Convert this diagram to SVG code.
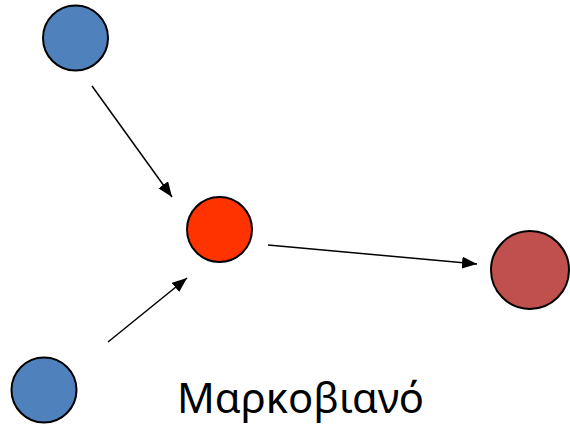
<svg xmlns="http://www.w3.org/2000/svg" width="570" height="424" viewBox="0 0 570 424">
<defs>
<marker id="ah" viewBox="0 0 15 12" refX="15" refY="6" markerWidth="15" markerHeight="12" markerUnits="userSpaceOnUse" orient="auto">
<path d="M0,0 L15,6 L0,12 Z" fill="#000"/>
</marker>
<style>
.n{stroke:#000;stroke-width:2}
.c{stroke:#000;stroke-width:1.5;fill:none;marker-end:url(#ah)}
.t{font-family:"Noto Sans","Open Sans",sans-serif;font-size:41px;fill:#000}
</style>
</defs>
<rect width="570" height="424" fill="#fff"/>
<g id="connectors">
<line class="c" x1="92" y1="86" x2="172" y2="197"/>
<line class="c" x1="108" y1="342" x2="187" y2="278"/>
<line class="c" x1="268" y1="245" x2="477" y2="264"/>
</g>
<g id="node-top"><circle class="n" cx="75.5" cy="38" r="32.5" fill="#4f81bd"/></g>
<g id="node-bottom"><circle class="n" cx="44" cy="390" r="32.5" fill="#4f81bd"/></g>
<g id="node-center"><circle class="n" cx="219.5" cy="229.5" r="32.5" fill="#ff3300"/></g>
<g id="node-right"><circle class="n" cx="530" cy="270" r="39" fill="#c0504d"/></g>
<g id="label"><text class="t" x="177" y="413" textLength="247" lengthAdjust="spacingAndGlyphs">Μαρκοβιανό</text></g>
</svg>
